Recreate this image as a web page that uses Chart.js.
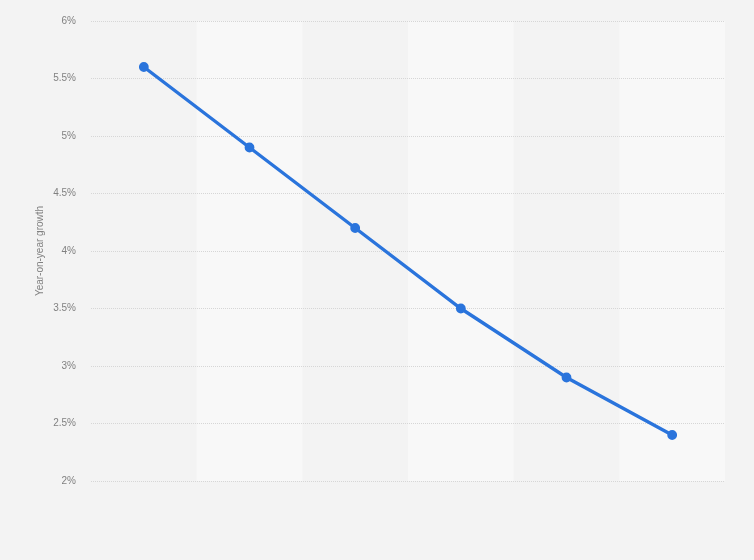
<!DOCTYPE html>
<html>
<head>
<meta charset="utf-8">
<script src="https://cdn.jsdelivr.net/npm/chart.js@4"></script>
<style>
  html, body { margin: 0; padding: 0; background: #f3f3f3; }
  #wrap { width: 754px; height: 560px; }
</style>
</head>
<body>
<div id="wrap"><canvas id="chart" width="754" height="560"></canvas></div>
<script>
// categories (no labels shown on the x axis of the picture)
const categories = ['2023', '2024', '2025', '2026', '2027', '2028'];
const growth = [5.6, 4.9, 4.2, 3.5, 2.9, 2.4];
const yTicks = [2, 2.5, 3, 3.5, 4, 4.5, 5, 5.5, 6];

// light stripes behind every other category, drawn before the grid
const columnBands = {
  id: 'columnBands',
  beforeDraw(chart) {
    const { ctx, chartArea, scales } = chart;
    const x = scales.x;
    const step = (chartArea.right - chartArea.left) / categories.length;
    ctx.save();
    ctx.fillStyle = '#f8f8f8';
    categories.forEach((c, i) => {
      if (i % 2 === 1) {
        const cx = x.getPixelForValue(i);
        ctx.fillRect(cx - step / 2, chartArea.top, step, chartArea.bottom - chartArea.top);
      }
    });
    ctx.restore();
  }
};

new Chart(document.getElementById('chart'), {
  type: 'line',
  data: {
    labels: categories,
    datasets: [{
      data: growth,
      borderColor: '#2a74dc',
      backgroundColor: '#2a74dc',
      borderWidth: 3.4,
      pointRadius: 3.2,
      pointHoverRadius: 4,
      tension: 0,
      fill: false
    }]
  },
  options: {
    responsive: false,
    animation: false,
    layout: { padding: { top: 20, right: 29, bottom: 79, left: 0 } },
    plugins: {
      legend: { display: false },
      tooltip: { enabled: false }
    },
    scales: {
      x: {
        display: false,
        offset: true
      },
      y: {
        min: 2,
        max: 6,
        afterBuildTicks(scale) {
          scale.ticks = yTicks.map(v => ({ value: v }));
        },
        afterFit(scale) { scale.width = 91; },
        border: { display: false, dash: [1, 1] },
        grid: {
          color: '#d6d6d6',
          lineWidth: 1,
          drawTicks: false
        },
        ticks: {
          padding: 15,
          color: '#808080',
          font: { family: 'Liberation Sans, Arial, sans-serif', size: 10 },
          callback: v => v + '%'
        },
        title: {
          display: true,
          text: 'Year-on-year growth',
          color: '#808080',
          font: { family: 'Liberation Sans, Arial, sans-serif', size: 10 },
          padding: { top: 34, bottom: 0 }
        }
      }
    }
  },
  plugins: [columnBands]
});
</script>
</body>
</html>
